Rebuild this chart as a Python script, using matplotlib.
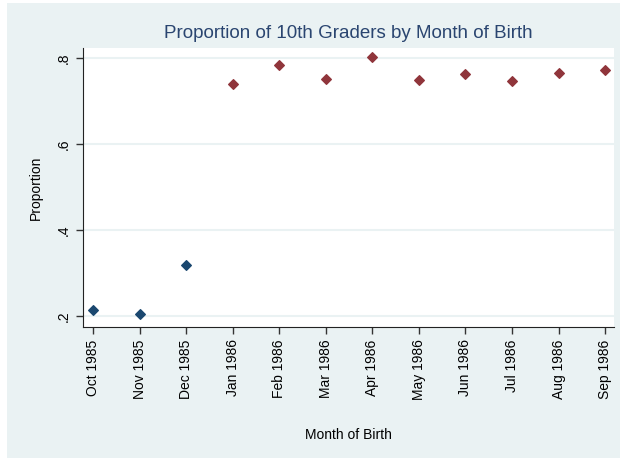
import matplotlib.pyplot as plt
from matplotlib.patches import Rectangle

plt.rcParams['font.family'] = ['Liberation Sans', 'DejaVu Sans']

# proportions
months = ['Oct 1985', 'Nov 1985', 'Dec 1985', 'Jan 1986', 'Feb 1986', 'Mar 1986',
          'Apr 1986', 'May 1986', 'Jun 1986', 'Jul 1986', 'Aug 1986', 'Sep 1986']
proportion = [0.214, 0.205, 0.319, 0.740, 0.784, 0.751,
              0.802, 0.749, 0.763, 0.746, 0.765, 0.772]
n_before = 3  # born before the cutoff
yticks = [0.2, 0.4, 0.6, 0.8]
ylabels = ['.2', '.4', '.6', '.8']

bg = '#EAF2F3'
navy = '#1A476F'
maroon = '#90353B'

fig = plt.figure(figsize=(6.2, 4.58), dpi=100)
fig.patches.append(Rectangle((7 / 620, 0), 1, 1 - 3 / 458, transform=fig.transFigure,
                             facecolor=bg, edgecolor='none', zorder=-1))

ax = fig.add_axes([83 / 620, 1 - 327 / 458, (614 - 83) / 620, (327 - 48) / 458])
ax.set_facecolor('white')

x = list(range(len(months)))
ax.scatter(x[:n_before], proportion[:n_before], marker='D', s=24, color=navy, zorder=3)
ax.scatter(x[n_before:], proportion[n_before:], marker='D', s=24, color=maroon, zorder=3)

ax.set_xlim(-0.215, len(months) - 1 + 0.19)
ax.set_ylim(0.174, 0.823)
ax.set_xticks(x)
ax.set_xticklabels(months, rotation=90, fontsize=10)
ax.set_yticks(yticks)
ax.set_yticklabels(ylabels, rotation=90, va='center', fontsize=10)
ax.grid(axis='y', color=bg, linewidth=1.5)
ax.set_axisbelow(True)
ax.tick_params(length=5, width=1, color='#333333', pad=4)

for s in ['top', 'right']:
    ax.spines[s].set_visible(False)
for s in ['left', 'bottom']:
    ax.spines[s].set_color('#222222')

ax.set_ylabel('Proportion', fontsize=10, labelpad=10)
ax.set_xlabel('Month of Birth', fontsize=10, labelpad=20)
ax.set_title('Proportion of 10th Graders by Month of Birth', fontsize=13.5,
             color='#2A4570', pad=7)

fig.savefig('out.png', dpi=100)
